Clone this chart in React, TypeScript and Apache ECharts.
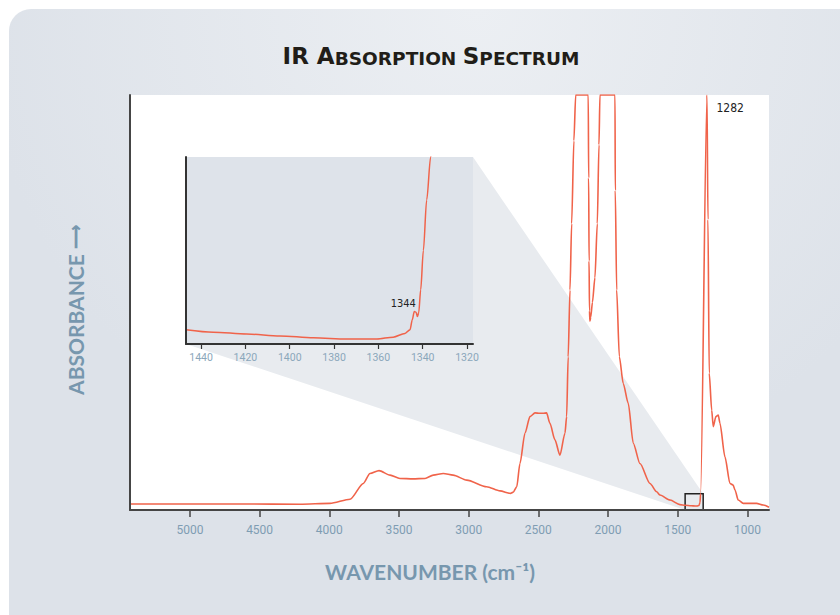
import React, { useEffect, useRef } from "react";
import * as echarts from "echarts";

// Main spectrum (wavenumber cm-1, absorbance in arbitrary units 0-100, saturated peaks at 100)
const mainWavenumbers = [
  5430, 5000, 4600, 4210, 3995, 3851, 3756, 3708, 3643, 3564, 3493, 3400, 3313, 3254, 3182, 3111, 3014,
  2871, 2775, 2700, 2680, 2655, 2632, 2596, 2560, 2524, 2490, 2465, 2441, 2417, 2381, 2345, 2309, 2297,
  2286, 2273, 2261, 2245, 2232, 2142, 2139, 2136, 2133, 2130, 2124, 2112, 2094, 2077, 2065, 2058, 1950,
  1948, 1938, 1919, 1891, 1855, 1819, 1771, 1699, 1651, 1627, 1555, 1484, 1447, 1404, 1374, 1361, 1348,
  1344, 1342, 1340, 1336, 1290, 1283, 1274, 1256, 1245, 1226, 1209, 1197, 1161, 1125, 1102, 1089, 1066,
  1030, 934, 886, 845,
];
const mainAbsorbance = [
  1.45, 1.45, 1.45, 1.4, 1.6, 2.6, 6.4, 8.8, 9.5, 8.4, 7.6, 7.5, 7.6, 8.4, 8.8, 8.4, 7.2,
  5.6, 4.6, 4.0, 4.3, 5.6, 11.2, 18.5, 22.5, 23.4, 23.3, 23.3, 23.4, 20.9, 16.9, 13.2, 18.5, 22.5,
  36.9, 53, 69, 89, 100, 100, 80, 60, 48, 45.5, 46.5, 50, 56, 69, 88, 100, 100,
  77, 53, 37, 30.5, 25.7, 16.1, 11.2, 6.4, 4.4, 3.6, 2.4, 1.3, 1.13, 1.03, 0.98, 0.98, 1.07,
  1.4, 1.35, 1.8, 3.9, 100, 70, 33, 24, 20.1, 22.5, 22.9, 20.9, 12.8, 6.4, 6.0, 4.8, 2.4,
  1.6, 1.6, 1.2, 0.65,
];

// Magnified region 1447 - 1317 cm-1
const insetWavenumbers = [
  1446.8, 1434.5, 1419.4, 1404.4, 1389.3, 1374.3, 1360.7, 1353.3, 1348, 1345.7, 1344.7, 1343.8, 1343,
  1342.4, 1341.8, 1340.9, 1339.7, 1338.2, 1336.4, 1334,
];
const insetAbsorbance = [
  1.13, 1.09, 1.06, 1.03, 1.0, 0.98, 0.98, 1.01, 1.07, 1.13, 1.29, 1.42, 1.41,
  1.34, 1.4, 1.77, 2.4, 3.21, 3.9, 5.0,
];

const mainTickValues = [1000, 1500, 2000, 2500, 3000, 3500, 4000, 4500, 5000];
const insetTickValues = [1320, 1340, 1360, 1380, 1400, 1420, 1440];

const mainRange = [845, 5430];
const mainAbsRange = [0, 100];
const insetRange = [1317.3, 1446.8];
const insetAbsRange = [0.9, 3.9];

const peakMain = { wn: 1290, abs: 100, label: "1282" };
const peakInset = { wn: 1343.8, abs: 1.42, label: "1344" };

const LINE = "#f0634a";
const AXIS = "#454545";
const BLUE = "#7797ae";
const TICK_FONT = "Roboto, sans-serif";
const NAME_FONT = "Lato, sans-serif";

export default function App() {
  const ref = useRef<HTMLDivElement>(null);

  useEffect(() => {
    const chart = echarts.init(ref.current!, null, { renderer: "svg" });
    const mainData = mainWavenumbers.map((w, i) => [w, mainAbsorbance[i]]);
    const insetData = insetWavenumbers.map((w, i) => [w, insetAbsorbance[i]]);
    const plain = (v: number) => String(v);

    const option: any = {
      animation: false,
      backgroundColor: "transparent",
      grid: [
        { left: 130, top: 95, width: 639, height: 415, show: true, backgroundColor: "#ffffff", borderWidth: 0, z: 0 },
        { left: 186, top: 157, width: 287, height: 187, show: true, backgroundColor: "#dee3ea", borderWidth: 0, z: 1 },
      ],
      xAxis: [
        {
          type: "value",
          gridIndex: 0,
          min: mainRange[0],
          max: mainRange[1],
          inverse: true,
          z: 3,
          axisLine: { show: true, onZero: false, lineStyle: { color: AXIS, width: 2 } },
          axisTick: { show: true, length: 7, lineStyle: { color: AXIS, width: 1.5 }, customValues: mainTickValues },
          axisLabel: { show: true, customValues: mainTickValues, formatter: plain, margin: 14, color: "#7f9db3", fontSize: 12, fontFamily: TICK_FONT },
          splitLine: { show: false },
        },
        {
          type: "value",
          gridIndex: 1,
          min: insetRange[0],
          max: insetRange[1],
          inverse: true,
          z: 3,
          axisLine: { show: true, onZero: false, lineStyle: { color: "#333", width: 2 } },
          axisTick: { show: true, length: 5, lineStyle: { color: "#333", width: 1.2 }, customValues: insetTickValues },
          axisLabel: { show: true, customValues: insetTickValues, formatter: plain, margin: 8, color: "#8ba7bb", fontSize: 10.5, fontFamily: TICK_FONT },
          splitLine: { show: false },
        },
      ],
      yAxis: [
        {
          type: "value",
          gridIndex: 0,
          min: mainAbsRange[0],
          max: mainAbsRange[1],
          z: 3,
          axisLine: { show: true, lineStyle: { color: AXIS, width: 2 } },
          axisTick: { show: false },
          axisLabel: { show: false },
          splitLine: { show: false },
        },
        {
          type: "value",
          gridIndex: 1,
          min: insetAbsRange[0],
          max: insetAbsRange[1],
          z: 3,
          axisLine: { show: true, lineStyle: { color: "#333", width: 2 } },
          axisTick: { show: false },
          axisLabel: { show: false },
          splitLine: { show: false },
        },
      ],
      series: [
        {
          type: "line",
          xAxisIndex: 0,
          yAxisIndex: 0,
          data: mainData,
          showSymbol: false,
          smooth: 0.25,
          smoothMonotone: "x",
          clip: true,
          lineStyle: { color: LINE, width: 1.6 },
          z: 2,
          markArea: {
            silent: true,
            itemStyle: { color: "rgba(0,0,0,0)", borderColor: "#222", borderWidth: 1.5 },
            data: [[{ xAxis: insetRange[1], yAxis: 0 }, { xAxis: insetRange[0], yAxis: insetAbsRange[1] }]],
          },
          markPoint: {
            silent: true,
            symbol: "rect",
            symbolSize: 1,
            itemStyle: { color: "rgba(0,0,0,0)" },
            label: {
              show: true,
              position: "right",
              distance: 0,
              offset: [9, 13],
              color: "#222",
              fontSize: 12,
              fontFamily: "'DejaVu Sans Condensed', 'DejaVu Sans', sans-serif",
              formatter: peakMain.label,
            },
            data: [{ coord: [peakMain.wn, peakMain.abs] }],
          },
        },
        {
          type: "line",
          xAxisIndex: 1,
          yAxisIndex: 1,
          data: insetData,
          showSymbol: false,
          smooth: 0.3,
          smoothMonotone: "x",
          clip: true,
          lineStyle: { color: LINE, width: 1.5 },
          z: 2,
          markPoint: {
            silent: true,
            symbol: "rect",
            symbolSize: 1,
            itemStyle: { color: "rgba(0,0,0,0)" },
            label: {
              show: true,
              position: "top",
              distance: 2,
              offset: [-11, 0],
              color: "#222",
              fontSize: 11,
              fontFamily: "'DejaVu Sans Condensed', 'DejaVu Sans', sans-serif",
              formatter: peakInset.label,
            },
            data: [{ coord: [peakInset.wn, peakInset.abs] }],
          },
        },
      ],
    };
    chart.setOption(option);

    const px = (g: number, pt: number[]) => chart.convertToPixel({ gridIndex: g } as any, pt) as number[];
    const boxTL = px(0, [insetRange[1], insetAbsRange[1]]);
    const boxBR = px(0, [insetRange[0], 0]);
    const inTL = px(1, [insetRange[1], insetAbsRange[1]]);
    const inBR = px(1, [insetRange[0], insetAbsRange[0]]);

    chart.setOption({
      graphic: [
        {
          type: "polygon",
          id: "wedge",
          z: 0.5,
          silent: true,
          shape: {
            points: [
              [inTL[0], inTL[1]],
              [inBR[0], inTL[1]],
              [boxBR[0], boxTL[1]],
              [boxBR[0], boxBR[1]],
              [boxTL[0], boxBR[1]],
              [inTL[0], inBR[1]],
            ],
          },
          style: { fill: "#e8ebef" },
        },
        {
          type: "text",
          id: "title",
          x: 431,
          y: 56,
          z: 5,
          style: {
            text: "{a|IR A}{b|BSORPTION }{a|S}{b|PECTRUM}",
            align: "center",
            verticalAlign: "middle",
            fill: "#211d18",
            rich: {
              a: { fontSize: 23, fontWeight: "bold", fontFamily: "'DejaVu Sans', sans-serif", fill: "#211d18", verticalAlign: "bottom" },
              b: { fontSize: 18.5, fontWeight: "bold", fontFamily: "'DejaVu Sans', sans-serif", fill: "#211d18", verticalAlign: "bottom" },
            },
          },
        },
        {
          type: "text",
          id: "ylab",
          x: 75,
          y: 310,
          rotation: Math.PI / 2,
          z: 5,
          style: {
            text: "{t|ABSORBANCE }{r|\u27F6}",
            align: "center",
            verticalAlign: "middle",
            fill: BLUE,
            rich: {
              t: { fontSize: 21, fontWeight: "bold", fontFamily: NAME_FONT, fill: BLUE },
              r: { fontSize: 17, fontWeight: "bold", fontFamily: NAME_FONT, fill: BLUE },
            },
          },
        },
        {
          type: "text",
          id: "xlab",
          x: 430,
          y: 571,
          z: 5,
          style: {
            text: "WAVENUMBER (cm\u207B\u00B9)",
            align: "center",
            verticalAlign: "middle",
            fill: BLUE,
            fontSize: 21,
            fontWeight: "bold",
            fontFamily: NAME_FONT,
          },
        },
      ],
    });

    return () => chart.dispose();
  }, []);

  return (
    <div style={{ position: "absolute", left: 0, top: 0, width: 840, height: 615, overflow: "hidden", background: "#ffffff" }}>
      <div
        style={{
          position: "absolute",
          left: 9,
          top: 9,
          width: 900,
          height: 700,
          borderRadius: 22,
          background: "radial-gradient(ellipse 55% 70% at 52% 0%, #eceff3 0%, #dde2e9 100%)",
        }}
      />
      <div ref={ref} style={{ position: "absolute", left: 0, top: 0, width: 840, height: 615 }} />
    </div>
  );
}
